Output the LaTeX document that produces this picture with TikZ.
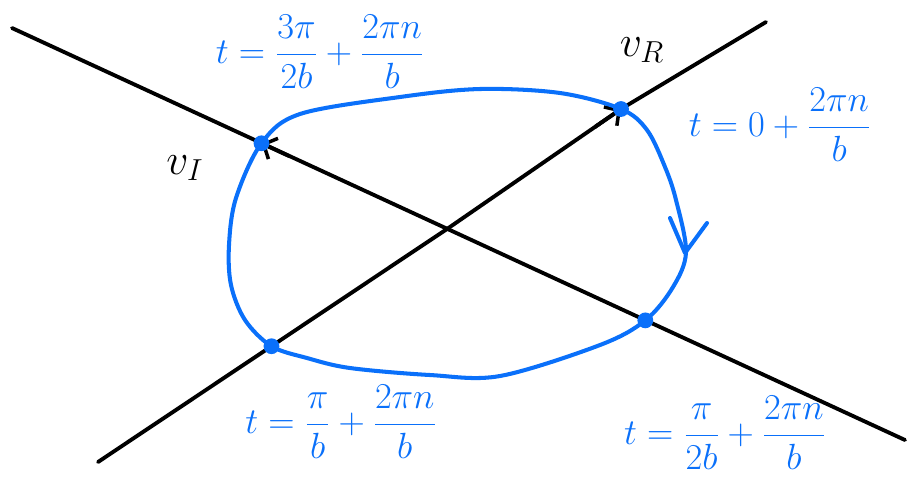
\documentclass[tikz,border=0pt]{standalone}
\usepackage{amsmath}
\usetikzlibrary{arrows.meta,calc}
\definecolor{pen}{RGB}{10,112,250}
\begin{document}
\begin{tikzpicture}[x=0.02cm,y=-0.02cm,
  axis/.style={line width=2.2pt,line cap=round,line join=round,black},
  tipm/.style={line width=2.2pt,black,-{Straight Barb[length=6pt,width=13pt,line width=2pt]}},
  curve/.style={line width=2.3pt,pen,line cap=round,line join=round},
  dotm/.style={circle,fill=pen,inner sep=0pt,minimum size=9pt},
  lbl/.style={text=pen,font=\fontsize{21}{24}\selectfont},
  vlbl/.style={text=black,font=\fontsize{26}{28}\selectfont}]
\useasboundingbox (0,0) rectangle (908,478);
% axis end points
\coordinate (A1) at (12,28);
\coordinate (A2) at (905,440);
\coordinate (B1) at (98,462);
\coordinate (B2) at (766,22);
\coordinate (O) at (447,229);
% points on ellipse (on the axes)
\coordinate (PI) at ($(O)!0.4265!(A1)$);
\coordinate (PR) at (621,109);
\coordinate (PS) at ($(O)!0.433!(A2)$);
\coordinate (PT) at ($(O)!0.503!(B1)$);
\draw[axis] (A1) -- (A2);
\draw[axis] (B1) -- (O) -- (PR) -- (B2);
% vector arrowheads
\draw[tipm] ($(O)!0.85!(PI)$) -- (PI);
\draw[tipm] ($(O)!0.85!(PR)$) -- (PR);
% ellipse
\draw[curve] plot[smooth cycle,tension=0.55] coordinates {
 (PI) (300,114) (400,97) (480,89) (560,93) (PR) (647,130) (665,167) (676,200)
 (686,252) (673,287) (PS) (600,345) (500,376) (430,375) (350,368) (307,358) (PT)
 (245,320) (231,285) (229,245) (236,198)};
% direction arrow on right side
\draw[curve] (670,218) -- (685,253) -- (707,223);
% dots
\node[dotm] (dI) at (PI) {};
\node[dotm] (dR) at (PR) {};
\node[dotm] (dS) at (PS) {};
\node[dotm] (dT) at (PT) {};
% labels
\node[vlbl] (vI) at (185,168) {$v_{I}$};
\node[vlbl] (vR) at (642,50) {$v_{R}$};
\node[lbl] (l1) at (320,52) {$t=\dfrac{3\pi}{2b}+\dfrac{2\pi n}{b}$};
\node[lbl] (l2) at (780,125) {$t=0+\dfrac{2\pi n}{b}$};
\node[lbl] (l3) at (341,422) {$t=\dfrac{\pi}{b}+\dfrac{2\pi n}{b}$};
\node[lbl] (l4) at (725,433) {$t=\dfrac{\pi}{2b}+\dfrac{2\pi n}{b}$};
\end{tikzpicture}
\end{document}
